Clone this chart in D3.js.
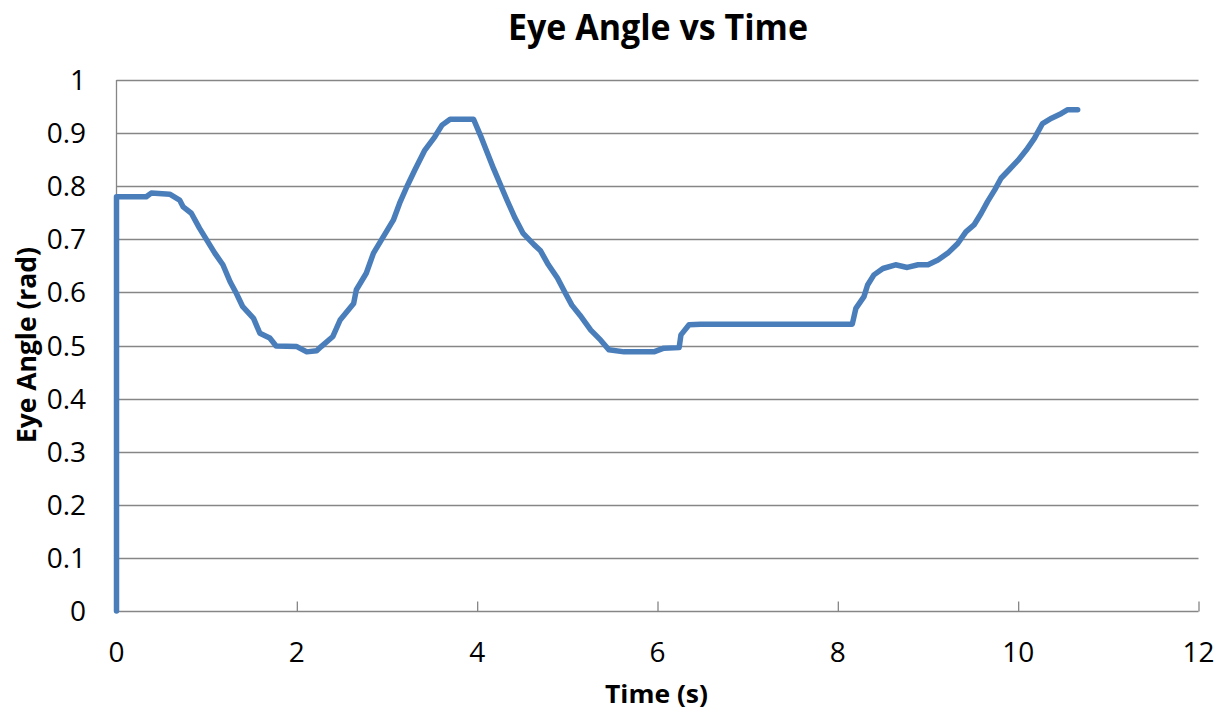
<!DOCTYPE html>
<html>
<head>
<meta charset="utf-8">
<script src="https://cdn.jsdelivr.net/npm/d3@7"></script>
<style>
  html, body { margin: 0; padding: 0; background: #fff; }
  svg { display: block; }
  text { font-family: "Open Sans", "Liberation Sans", sans-serif; fill: #000; }
</style>
</head>
<body>
<svg id="chart" width="1224" height="711"></svg>
<script>
// ---- data ----
const time = [0, 0, 0.33, 0.385, 0.59, 0.70, 0.74, 0.83, 0.92, 1.00, 1.09, 1.18, 1.26, 1.33, 1.40, 1.52, 1.59, 1.70, 1.77, 2.00,
  2.11, 2.22, 2.27, 2.40, 2.48, 2.63, 2.66, 2.77, 2.85, 2.96, 3.07, 3.14, 3.22, 3.31, 3.42, 3.53, 3.61, 3.70, 3.96,
  4.05, 4.18, 4.29, 4.33, 4.42, 4.51, 4.63, 4.70, 4.79, 4.89, 4.98, 5.05, 5.14, 5.26, 5.37, 5.46, 5.63, 5.96,
  6.07, 6.24, 6.26, 6.35, 6.48, 8.16, 8.20, 8.29, 8.33, 8.40, 8.50, 8.64, 8.77, 8.89, 9.00, 9.11, 9.22, 9.33,
  9.42, 9.51, 9.59, 9.66, 9.74, 9.81, 9.90, 10.00, 10.09, 10.18, 10.27, 10.37, 10.48, 10.55, 10.66];
const angle = [0, 0.780, 0.780, 0.787, 0.785, 0.774, 0.761, 0.749, 0.721, 0.699, 0.674, 0.652, 0.620, 0.598, 0.573, 0.551, 0.523, 0.514, 0.499, 0.498,
  0.488, 0.490, 0.498, 0.517, 0.548, 0.579, 0.605, 0.636, 0.674, 0.705, 0.736, 0.768, 0.799, 0.831, 0.868, 0.893, 0.915, 0.926, 0.926,
  0.890, 0.834, 0.790, 0.774, 0.740, 0.711, 0.690, 0.679, 0.652, 0.627, 0.598, 0.576, 0.557, 0.529, 0.510, 0.492, 0.488, 0.488,
  0.495, 0.496, 0.520, 0.539, 0.540, 0.540, 0.570, 0.592, 0.614, 0.633, 0.645, 0.652, 0.647, 0.652, 0.652, 0.661, 0.674, 0.692,
  0.714, 0.727, 0.749, 0.771, 0.793, 0.815, 0.831, 0.849, 0.868, 0.890, 0.918, 0.928, 0.937, 0.944, 0.944];
const xTicks = [0, 2, 4, 6, 8, 10, 12];
const yTicks = [0, 0.1, 0.2, 0.3, 0.4, 0.5, 0.6, 0.7, 0.8, 0.9, 1];
const titleText = "Eye Angle vs Time";
const xTitle = "Time (s)";
const yTitle = "Eye Angle (rad)";

// ---- layout ----
const svg = d3.select("#chart");
const pLeft = 116.5, pRight = 1198.5, pTop = 80, pBottom = 611;
const x = d3.scaleLinear().domain([0, 12]).range([pLeft, pRight]);
const y = d3.scaleLinear().domain([0, 1]).range([pBottom, pTop]);
const gridColor = "#868686";

// gridlines
svg.append("g").selectAll("line").data(yTicks.filter(d => d > 0)).join("line")
  .attr("x1", pLeft).attr("x2", pRight)
  .attr("y1", d => Math.round(y(d)) + 0.5).attr("y2", d => Math.round(y(d)) + 0.5)
  .attr("stroke", gridColor).attr("stroke-width", 1.3);

// x axis (ticks inside)
const xAxis = d3.axisBottom(x).tickValues(xTicks).tickSize(-10).tickFormat("");
const gx = svg.append("g").attr("transform", `translate(0,${pBottom + 0.5})`).call(xAxis);
gx.select(".domain").attr("stroke", gridColor).attr("stroke-width", 1.3).attr("d", `M${pLeft},0H${pRight}`);
gx.selectAll(".tick line").attr("stroke", gridColor).attr("stroke-width", 1.3);

// y axis line
const yAxis = d3.axisLeft(y).tickValues(yTicks).tickSize(0).tickFormat("");
const gy = svg.append("g").attr("transform", `translate(${pLeft},0)`).call(yAxis);
gy.select(".domain").attr("stroke", gridColor).attr("stroke-width", 1.3).attr("d", `M0,${pTop}V${pBottom}`);

// tick labels
svg.append("g").selectAll("text").data(xTicks).join("text")
  .attr("x", d => x(d)).attr("y", 662)
  .attr("text-anchor", "middle").attr("font-size", 28)
  .text(d => d);
svg.append("g").selectAll("text").data(yTicks).join("text")
  .attr("x", 86).attr("y", d => y(d) + 10)
  .attr("text-anchor", "end").attr("font-size", 28)
  .text(d => d === 0 ? "0" : (d === 1 ? "1" : d3.format(".1f")(d)));

// line
const pts = time.map((t, i) => [t, angle[i]]);
svg.append("path").datum(pts)
  .attr("fill", "none").attr("stroke", "#4a7ebb").attr("stroke-width", 5.5)
  .attr("stroke-linejoin", "round").attr("stroke-linecap", "round")
  .attr("d", d3.line().x(d => x(d[0])).y(d => y(d[1])));

// titles
svg.append("text").attr("x", 658).attr("y", 39.5)
  .attr("text-anchor", "middle").attr("font-size", 36).attr("font-weight", "bold")
  .attr("textLength", 300).attr("lengthAdjust", "spacingAndGlyphs")
  .text(titleText);
svg.append("text").attr("x", 656.5).attr("y", 703)
  .attr("text-anchor", "middle").attr("font-size", 25.5).attr("font-weight", "bold")
  .attr("textLength", 103).attr("lengthAdjust", "spacingAndGlyphs")
  .text(xTitle);
svg.append("text").attr("transform", "translate(36,345) rotate(-90)")
  .attr("text-anchor", "middle").attr("font-size", 26.5).attr("font-weight", "bold")
  .attr("textLength", 196).attr("lengthAdjust", "spacingAndGlyphs")
  .text(yTitle);
</script>
</body>
</html>
